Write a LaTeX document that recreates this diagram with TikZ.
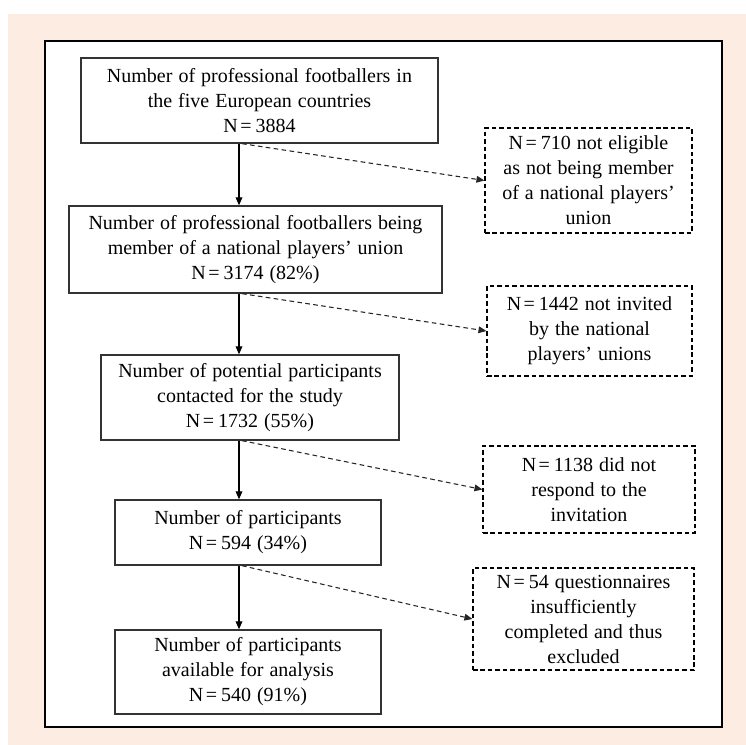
\documentclass[tikz,border=0pt]{standalone}
\usepackage{fontspec}
\setmainfont{Liberation Serif}
\usetikzlibrary{arrows.meta}
\definecolor{peach}{HTML}{FCECE2}
\definecolor{boxline}{HTML}{333333}
\newcommand{\boxfont}{\fontsize{15pt}{18.75pt}\selectfont\spaceskip=0.3em plus 0.1em\relax}
\newcommand{\Neq}{N\hspace{0.12em}=\hspace{0.2em}}
\tikzset{
  mainbox/.style={draw=boxline, line width=1pt, fill=white, align=center, inner sep=0pt,
    font=\boxfont},
  exclbox/.style={draw=black, line width=0.8pt, dash pattern=on 3.4pt off 2.2pt, fill=white,
    align=center, inner sep=0pt, font=\boxfont},
  flow/.style={draw=black, line width=0.9pt, -{Triangle[length=6pt,width=5pt]}},
  excl/.style={draw=black!85, line width=0.8pt, dash pattern=on 3.5pt off 2.5pt,
    -{Triangle[length=6pt,width=5pt]}}
}
\begin{document}
\begin{tikzpicture}[x=0.75pt,y=-0.75pt]
\useasboundingbox (0,0) rectangle (746,745);
\fill[white] (0,0) rectangle (746,745);
\fill[peach] (8,14) rectangle (746,745);
\draw[black, line width=1.3pt, fill=white] (45,41) rectangle (722,727);
\coordinate (ax) at (239,0);
\coordinate (dx) at (242,0);
% main boxes
\node[mainbox, minimum width=267.75pt, minimum height=63.75pt] (b1) at (259.5,100.5)
  {Number of professional footballers in\\the five European countries\\\Neq 3884};
\node[mainbox, minimum width=279.75pt, minimum height=65.25pt] (b2) at (255.5,249.5)
  {Number of professional footballers being\\member of a national players' union\\\Neq 3174 (82\%)};
\node[mainbox, minimum width=223.5pt, minimum height=63.75pt] (b3) at (250,397.5)
  {Number of potential participants\\contacted for the study\\\Neq 1732 (55\%)};
\node[mainbox, minimum width=199.5pt, minimum height=48.75pt] (b4) at (248,532.5)
  {Number of participants\\\Neq 594 (34\%)};
\node[mainbox, minimum width=199.5pt, minimum height=63pt] (b5) at (248,672)
  {Number of participants\\available for analysis\\\Neq 540 (91\%)};
% exclusion boxes
\node[exclbox, minimum width=155.25pt, minimum height=78.75pt] (d1) at (588.5,180.5)
  {\Neq 710 not eligible\\as not being member\\of a national players’\\union};
\node[exclbox, minimum width=153.75pt, minimum height=67.5pt] (d2) at (589.5,331)
  {\Neq 1442 not invited\\by the national\\players’ unions};
\node[exclbox, minimum width=159pt, minimum height=65.25pt] (d3) at (589,489.5)
  {\Neq 1138 did not\\respond to the\\invitation};
\node[exclbox, minimum width=165.75pt, minimum height=76.5pt] (d4) at (583.5,619)
  {\Neq 54 questionnaires\\insufficiently\\completed and thus\\excluded};
% flow arrows
\draw[flow] (b1.south -| ax) -- (b2.north -| ax);
\draw[flow] (b2.south -| ax) -- (b3.north -| ax);
\draw[flow] (b3.south -| ax) -- (b4.north -| ax);
\draw[flow] (b4.south -| ax) -- (b5.north -| ax);
% exclusion arrows
\draw[excl] (b1.south -| dx) -- (d1.west);
\draw[excl] (b2.south -| dx) -- (d2.west);
\draw[excl] (b3.south -| dx) -- (d3.west);
\draw[excl] (b4.south -| dx) -- (d4.west);
\end{tikzpicture}
\end{document}
